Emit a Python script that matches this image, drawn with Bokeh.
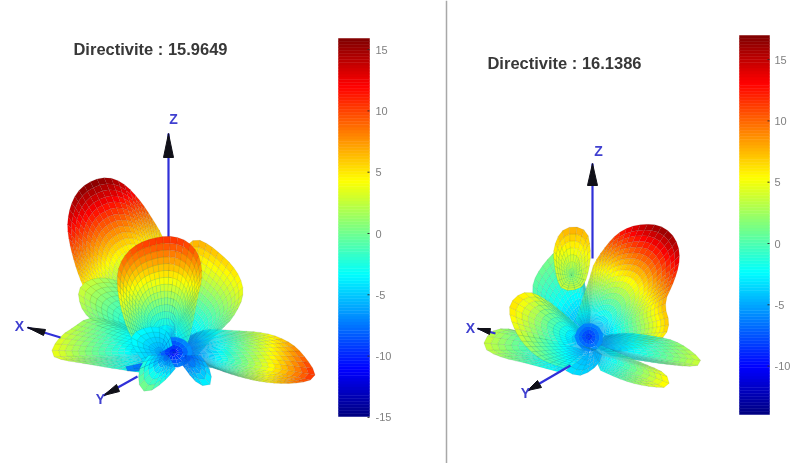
from bokeh.plotting import figure
from bokeh.models import Range1d
from bokeh.core.properties import value
from bokeh.embed import file_html
from bokeh.resources import INLINE
import numpy as np

# ---- titles / colourbars ----
TITLE_A = "Directivite : 15.9649"
TITLE_B = "Directivite : 16.1386"
TICKS_A = [15, 10, 5, 0, -5, -10, -15]
TICKS_B = [15, 10, 5, 0, -5, -10]
RANGE_A = (-15.0, 15.96)
RANGE_B = (-13.9, 16.9)
ZERO_A, ZERO_B, STEP = 233.0, 243.0, 12.26

# ---- lobes: origin, outline, value at origin, peak value (dB) ----
LOBES_A = [
    ("big", (175, 352), [(140, 350), (100, 320), (80, 282), (69, 245), (66, 220), (74, 193), (90, 180), (107, 176), (123, 182), (140, 200), (153, 220), (165, 240), (175, 300)], -12, 16),
    ("backr", (178, 352), [(172, 270), (185, 245), (197, 237), (217, 250), (237, 270), (245, 293), (233, 317), (225, 325), (205, 345), (195, 358)], -7, 7),
    ("backl", (175, 352), [(130, 352), (88, 318), (79, 305), (77, 285), (100, 275), (130, 285), (160, 300)], -8, 3),
    ("left", (176, 352), [(140, 372), (125, 370), (83, 363), (53, 358), (50, 350), (60, 335), (73, 327), (88, 316), (110, 320), (140, 325), (160, 335)], -8, 4),
    ("right", (182, 352), [(190, 368), (207, 365), (233, 375), (267, 383), (300, 383), (317, 377), (310, 363), (293, 343), (267, 332), (233, 330), (205, 328), (190, 335)], -9, 11),
    ("dome", (165, 345), [(135, 345), (125, 325), (118, 298), (116, 277), (120, 260), (133, 245), (153, 237), (173, 235), (190, 242), (200, 257), (202, 277), (197, 297), (190, 335), (185, 348)], -6, 11),
    ("core", (173, 352), [(155, 352), (159, 341), (172, 335), (187, 340), (194, 352), (186, 365), (172, 368), (159, 362), (155, 352)], -11, -6),
    ("frontl", (160, 352), [(145, 365), (128, 340), (135, 330), (153, 325), (168, 330), (172, 345)], -6, -3),
    ("blue", (165, 358), [(125, 366), (122, 368), (130, 372), (150, 368)], -9, -7),
    ("frontb", (168, 355), [(175, 368), (163, 382), (147, 393), (138, 387), (138, 367), (148, 355)], -8, 1),
    ("frontr", (185, 355), [(180, 362), (197, 385), (212, 386), (210, 368), (200, 355)], -9, -3),
]
LOBES_B = [
    ("backg", (588, 338), [(560, 345), (535, 305), (530, 282), (553, 250), (575, 240), (590, 310)], -6, 2),
    ("small", (571, 275), [(567, 290), (558, 287), (553, 260), (553, 247), (560, 230), (573, 225), (587, 230), (590, 247), (590, 262), (585, 283), (578, 289), (567, 290)], 2, 8),
    ("big", (590, 338), [(575, 320), (585, 290), (590, 275), (593, 263), (607, 243), (620, 230), (640, 223), (663, 225), (677, 240), (680, 260), (673, 283), (663, 303), (670, 323), (663, 340), (625, 352), (600, 350)], -7, 16.5),
    ("right", (595, 345), [(610, 355), (657, 363), (697, 367), (703, 360), (677, 340), (650, 335), (625, 332), (605, 335)], -6, 4),
    ("farl", (585, 350), [(560, 372), (527, 363), (500, 357), (480, 347), (490, 330), (507, 327), (530, 335)], -6, 4),
    ("leftb", (590, 346), [(585, 370), (563, 368), (537, 358), (517, 337), (507, 310), (513, 297), (527, 290), (543, 297), (560, 310), (577, 325), (590, 335)], -6, 6.5),
    ("core", (588, 336), [(574, 336), (578, 326), (588, 321), (600, 326), (604, 338), (598, 350), (588, 352), (578, 347), (574, 336)], -9, -5),
    ("botr", (592, 352), [(600, 370), (627, 382), (653, 387), (670, 387), (667, 373), (643, 363), (617, 352), (600, 345)], -5, 6),
    ("bot", (592, 350), [(565, 370), (578, 377), (595, 368), (605, 352), (580, 345)], -5, -3),
]

# ---- axes: shaft start, tip, head base ends, label, label position ----
AXES_A = {"z": ((168, 240), (168, 133), (163, 157), (173, 157), "Z", (173, 118)),
          "x": ((60, 337), (27, 327), (45, 329), (43, 335), "X", (19, 325)),
          "y": ((137, 376), (103, 395), (116, 384), (119, 391), "Y", (100, 398))}
AXES_B = {"z": ((592, 258), (592, 163), (587, 185), (597, 185), "Z", (598, 150)),
          "x": ((495, 333), (477, 328), (490, 328), (489, 334), "X", (470, 327)),
          "y": ((570, 365), (527, 390), (537, 380), (541, 387), "Y", (525, 392))}

# ---- geometry of the page (reference pixels) ----
BAR_A = (338, 369, 38, 416)
BAR_B = (739, 769, 35, 414)
TICK_X_A, TICK_X_B = 375, 774
DIVIDER = (446, 0, 463)

def jet(f):
    f = np.clip(f, 0, 1)
    r = np.clip(min(4*f-1.5, -4*f+4.5), 0, 1)
    g = np.clip(min(4*f-0.5, -4*f+3.5), 0, 1)
    b = np.clip(min(4*f+0.5, -4*f+2.5), 0, 1)
    return "#%02x%02x%02x" % (int(r*255), int(g*255), int(b*255))

def chaikin(p, n=2):
    p = np.array(p, float)
    for _ in range(n):
        q = [p[0]]
        for a, b in zip(p[:-1], p[1:]):
            q += [0.75*a+0.25*b, 0.25*a+0.75*b]
        q.append(p[-1])
        p = np.array(q)
    return p

def resample(p, n):
    s = np.r_[0, np.cumsum(np.hypot(*np.diff(p, axis=0).T))]
    u = np.linspace(0, s[-1], n)
    return np.c_[np.interp(u, s, p[:, 0]), np.interp(u, s, p[:, 1])]

p = figure(width=791, height=463, x_range=Range1d(0, 791), y_range=Range1d(463, 0),
           x_axis_type=None, y_axis_type=None, toolbar_location=None, output_backend="svg",
           min_border=0, outline_line_color=None, background_fill_color="white")
p.grid.visible = False

def draw_axis(ax):
    a, tip, l, r, lab, pos = ax
    p.line([a[0], tip[0]], [a[1], tip[1]], line_color="#3030d8", line_width=2.2)
    p.patch([tip[0], l[0], r[0]], [tip[1], l[1], r[1]], fill_color="#101018", line_color="#101018")
    p.text([pos[0]], [pos[1]], text=[lab], text_color="#4040d0", text_font=value("Liberation Sans"),
           text_font_style="bold", text_font_size="14px", text_align="center", text_baseline="middle")

def draw_lobes(lobes, rng):
    xs, ys, cs, al = [], [], [], []
    for name, org, outline, v0, v1 in lobes:
        o = np.array(org, float)
        edge = chaikin(outline)
        L = np.hypot(*np.diff(edge, axis=0).T).sum()
        nr = max(5, int(L/7))
        edge = resample(edge, nr)
        dmax = np.hypot(*(edge-o).T).max()
        nt = max(4, int(dmax/6.5))
        ts = np.linspace(0, 1, nt+1)
        for i in range(nr-1):
            for j in range(nt):
                q = [o+(edge[i]-o)*ts[j], o+(edge[i+1]-o)*ts[j], o+(edge[i+1]-o)*ts[j+1], o+(edge[i]-o)*ts[j+1]]
                c = np.mean(q, axis=0)
                d = np.hypot(*(c-o))
                v = v0+(v1-v0)*d/dmax
                xs.append([a[0] for a in q]); ys.append([a[1] for a in q])
                cs.append(jet((v-rng[0])/(rng[1]-rng[0])))
                al.append(0.03 if name == "core" else 0.03+0.14*(j+1)/nt)
    p.patches(xs, ys, fill_color=cs, line_color="#202020", line_alpha=al, line_width=0.5)

def draw_bar(bar, rng, zero, ticks, tick_x):
    x0, x1, y0, y1 = bar
    n = 128
    cols = [jet((k+0.5)/n) for k in range(n)]
    yy = np.linspace(y1, y0, n+1)
    p.quad(left=x0, right=x1, top=yy[1:], bottom=yy[:-1], fill_color=cols, line_color=cols, line_width=0.5)
    ty = [zero-STEP*t for t in ticks]
    p.segment(x1-2, ty, x1, ty, line_color="#303030", line_width=1)
    p.text([tick_x]*len(ticks), ty, text=[str(t) for t in ticks], text_color="#808080",
           text_font=value("Liberation Sans"), text_font_size="11px", text_align="left", text_baseline="middle")

# panel A
draw_axis(AXES_A["z"])
draw_lobes(LOBES_A, RANGE_A)
draw_axis(AXES_A["x"]); draw_axis(AXES_A["y"])
draw_bar(BAR_A, RANGE_A, ZERO_A, TICKS_A, TICK_X_A)
p.text([150], [48], text=[TITLE_A], text_color="#383838", text_font=value("Liberation Sans"),
       text_font_style="bold", text_font_size="16.5px", text_align="center", text_baseline="middle")

# panel B
draw_axis(AXES_B["z"])
draw_lobes(LOBES_B, RANGE_B)
draw_axis(AXES_B["x"]); draw_axis(AXES_B["y"])
draw_bar(BAR_B, RANGE_B, ZERO_B, TICKS_B, TICK_X_B)
p.text([564], [62], text=[TITLE_B], text_color="#383838", text_font=value("Liberation Sans"),
       text_font_style="bold", text_font_size="16.5px", text_align="center", text_baseline="middle")

# divider
p.line([DIVIDER[0]]*2, [DIVIDER[1], DIVIDER[2]], line_color="#a8a8a8", line_width=1.5)

html = file_html(p, INLINE).replace("</head>", "<style>body { filter: blur(0.7px); }</style></head>")
open("out.html", "w").write(html)
